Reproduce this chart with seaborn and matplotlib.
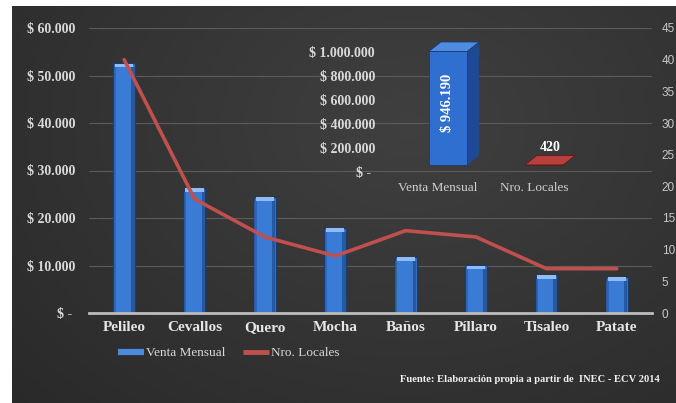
import numpy as np
import pandas as pd
import seaborn as sns
import matplotlib
matplotlib.use("Agg")
import matplotlib.pyplot as plt
from matplotlib.patches import Polygon, Rectangle
from matplotlib.lines import Line2D
from matplotlib.transforms import ScaledTranslation

# ---------------- data ----------------
cantones = ["Pelileo", "Cevallos", "Quero", "Mocha", "Baños", "Píllaro", "Tisaleo", "Patate"]
venta_mensual = [52600, 26400, 24500, 18000, 11800, 10100, 8000, 7600]
nro_locales = [40, 18, 12, 9, 13, 12, 7, 7]

total_labels = ["Venta Mensual", "Nro. Locales"]
total_values = [946190, 420]

left_ticks = [0, 10000, 20000, 30000, 40000, 50000, 60000]
right_ticks = [0, 5, 10, 15, 20, 25, 30, 35, 40, 45]
inset_ticks = [0, 200000, 400000, 600000, 800000, 1000000]

# ---------------- style ----------------
sns.set_theme(style="dark")
plt.rcParams["font.family"] = ["Liberation Serif", "DejaVu Serif"]

W, H, DPI = 676, 403, 100
fig = plt.figure(figsize=(W / DPI, H / DPI), dpi=DPI, facecolor="white")

def fx(px):
    return px / W

def fy(py):
    return 1 - py / H

# background gradient
bg = fig.add_axes([fx(12), 0, 1 - fx(12), fy(6)], zorder=-10)
gx, gy = np.meshgrid(np.linspace(0, 1, 300), np.linspace(1, 0, 200))
r = np.sqrt(((gx - 0.6) / 0.8) ** 2 + ((gy - 0.7) / 1.0) ** 2)
v = np.clip(0.25 - 0.085 * r, 0, 1)
bg.imshow(np.dstack([v, v, v]), aspect="auto", extent=[0, 1, 0, 1], interpolation="bilinear")
bg.set_axis_off()

TXT = "#d9d9d9"
BLUE = "#3a7bd5"
BLUE_EDGE = "#1b3c72"
RED = "#c0504d"

# ---------------- main chart ----------------
x0, x1, ytop, ybot = 89, 652, 28, 313
ax = fig.add_axes([fx(x0), fy(ybot), fx(x1 - x0), (ybot - ytop) / H])
ax.set_facecolor("none")
df = pd.DataFrame({"canton": cantones, "venta": venta_mensual})
sns.barplot(data=df, x="canton", y="venta", ax=ax, color=BLUE, saturation=1,
            width=0.31, edgecolor=BLUE_EDGE, linewidth=1.0, zorder=3)
ax.set_xlim(-0.5, len(cantones) - 0.5)
ax.set_ylim(0, 60000)
ax.set_xlabel("")
ax.set_ylabel("")
ax.set_yticks(left_ticks)
ax.set_yticklabels([("$ - " if t == 0 else "$ " + f"{t:,}".replace(",", ".")) for t in left_ticks])
ax.tick_params(axis="y", length=0, pad=9.5, labelsize=10, labelcolor=TXT)
ax.tick_params(axis="x", length=0, pad=6, labelsize=11, labelcolor="#e6e6e6")
for lbl in ax.get_yticklabels() + ax.get_xticklabels():
    lbl.set_fontweight("bold")
ax.grid(axis="y", color="#5c5c5c", linewidth=0.8, zorder=0)
ax.grid(axis="x", visible=False)
for s in ["top", "right", "left"]:
    ax.spines[s].set_visible(False)
ax.spines["bottom"].set_color("#bdbdbd")
ax.spines["bottom"].set_linewidth(2)
ax.spines["bottom"].set_zorder(4)

# bevel highlights on bars, taken from the drawn patches
for p in list(ax.patches):
    bx, bw, bh = p.get_x(), p.get_width(), p.get_height()
    ax.add_patch(Rectangle((bx + bw * 0.08, bh - 900), bw * 0.84, 800,
                           facecolor="#8fbcf5", edgecolor="none", zorder=4))
    ax.add_patch(Rectangle((bx + bw * 0.82, 0), bw * 0.16, bh - 900,
                           facecolor="#24508f", edgecolor="none", zorder=4, alpha=0.8))
    ax.add_patch(Rectangle((bx + bw * 0.02, 0), bw * 0.1, bh - 900,
                           facecolor="#2c62b0", edgecolor="none", zorder=4, alpha=0.8))

ax2 = ax.twinx()
sns.lineplot(x=np.arange(len(cantones)), y=nro_locales, ax=ax2, color=RED,
             linewidth=2.6, zorder=5)
ax2.set_ylim(0, 45)
ax2.set_yticks(right_ticks)
ax2.tick_params(axis="y", length=0, pad=7, labelsize=8.5, labelcolor="#c8c8c8")
for lbl in ax2.get_yticklabels():
    lbl.set_fontfamily(["Liberation Sans", "DejaVu Sans"])
ax2.grid(False)
ax2.set_facecolor("none")
for s in ax2.spines.values():
    s.set_visible(False)
ax2.set_ylabel("")

# ---------------- inset chart ----------------
ia_left, ia_right, ia_top, ia_bot = 400, 592, 52, 172
axi = fig.add_axes([fx(ia_left), fy(ia_bot), fx(ia_right - ia_left), (ia_bot - ia_top) / H], zorder=6)
axi.set_facecolor("none")
axi.set_xlim(-0.5, 1.5)
axi.set_ylim(0, 1000000)
px_per_x = (ia_right - ia_left) / 2.0
px_per_y = (ia_bot - ia_top) / 1000000.0
dx = 12 / px_per_x
dy = 9.5 / px_per_y
shift = axi.transData + ScaledTranslation(0, 7 / DPI, fig.dpi_scale_trans)

bw = 0.4
front_cols = ["#2f6fcf", "#a33532"]
top_cols = ["#4f8be0", "#b5403c"]
side_cols = ["#1d4a93", "#7d2422"]
for i, val in enumerate(total_values):
    ec = "#5e1a18" if i else "#1a3a6e"
    bars = axi.bar([i], [val], width=bw, color=front_cols[i], edgecolor=ec,
                   linewidth=0.6, zorder=3)
    for b in bars:
        b.set_transform(shift)
        b.set_clip_on(False)
    l, rgt = i - bw / 2, i + bw / 2
    axi.add_patch(Polygon([(l, val), (rgt, val), (rgt + dx, val + dy), (l + dx, val + dy)],
                          closed=True, facecolor=top_cols[i], edgecolor=ec,
                          linewidth=0.6, transform=shift, zorder=3, clip_on=False))
    axi.add_patch(Polygon([(rgt, 0), (rgt + dx, dy), (rgt + dx, val + dy), (rgt, val)],
                          closed=True, facecolor=side_cols[i], edgecolor="none",
                          transform=shift, zorder=2, clip_on=False))

axi.text(0, total_values[0] * 0.55, "$ " + f"{total_values[0]:,}".replace(",", "."),
         rotation=90, ha="center", va="center", color="white", fontsize=10.5,
         fontweight="bold", transform=shift, zorder=5)
axi.text(1 + dx / 2, total_values[1] + dy + 15000, f"{total_values[1]}",
         ha="center", va="bottom", color="white", fontsize=10, fontweight="bold",
         transform=shift, zorder=5, clip_on=False)

axi.set_yticks(inset_ticks)
axi.set_yticklabels([("$ - " if t == 0 else "$ " + f"{t:,}".replace(",", ".")) for t in inset_ticks])
axi.set_xticks([i - 10 / px_per_x for i in range(len(total_labels))])
axi.set_xticklabels(total_labels)
axi.tick_params(axis="y", length=0, pad=18, labelsize=10, labelcolor=TXT)
axi.tick_params(axis="x", length=0, pad=7, labelsize=9.5, labelcolor="#d0d0d0")
for lbl in axi.get_yticklabels():
    lbl.set_fontweight("bold")
axi.grid(False)
for s in axi.spines.values():
    s.set_visible(False)

# ---------------- legend & source ----------------
handles = [Line2D([], [], color="#4a8ae0", linewidth=4.5, solid_capstyle="butt"),
           Line2D([], [], color=RED, linewidth=3.5, solid_capstyle="butt")]
leg = fig.legend(handles, ["Venta Mensual", "Nro. Locales"], loc="center left",
                 bbox_to_anchor=(fx(106), fy(353)), ncol=2, frameon=False,
                 fontsize=9.5, handlelength=2.0, handletextpad=0.15, columnspacing=1.3,
                 labelcolor="#d9d9d9")

fig.text(fx(660), fy(379), "Fuente: Elaboración propia a partir de  INEC - ECV 2014",
         ha="right", va="center", fontsize=7.6, fontweight="bold", color="#f0f0f0")

fig.savefig("out.png", dpi=DPI, facecolor="white")
